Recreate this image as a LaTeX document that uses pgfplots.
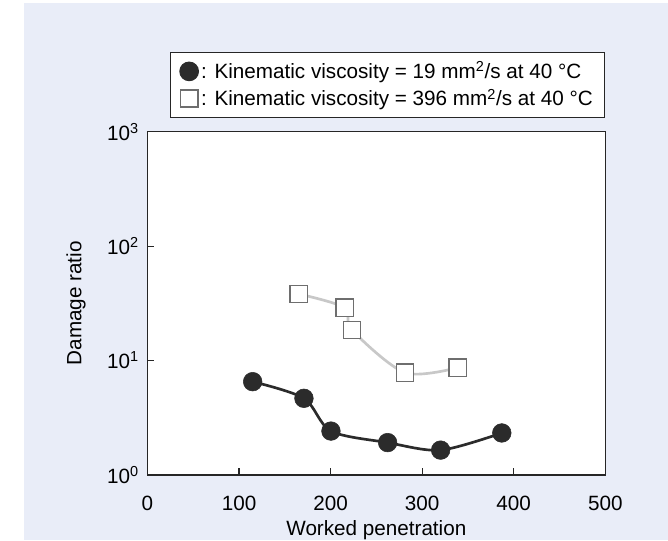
\documentclass[border=0pt]{standalone}
\usepackage{fontspec}
\setmainfont{Liberation Sans}
\usepackage{pgfplots}
\pgfplotsset{compat=1.18}
\definecolor{bgpanel}{RGB}{233,237,248}
\definecolor{darkmark}{RGB}{43,43,43}
\definecolor{lightline}{RGB}{200,200,200}
\definecolor{sqedge}{RGB}{110,110,110}

\begin{document}
\begin{tikzpicture}
% page background: 1px = 0.75pt, axis south west corner at (0,0)
\fill[bgpanel] (-110.6pt,-48.75pt) rectangle (390.4pt,356.25pt);
\fill[white] (-110.6pt,-48.75pt) rectangle (-92.6pt,356.25pt);
\fill[white] (-110.6pt,354pt) rectangle (390.4pt,356.25pt);

\begin{axis}[
    at={(0,0)}, anchor=south west,
    scale only axis,
    width=343.35pt, height=257.5pt,
    ymode=log,
    xmin=0, xmax=500,
    ymin=1, ymax=1000,
    xtick={0,100,200,300,400,500},
    xticklabels={0,100,200,300,400,500},
    ytick={1,10,100,1000},
    yticklabels={10\textsuperscript{0},10\textsuperscript{1},10\textsuperscript{2},10\textsuperscript{3}},
    yminorticks=false,
    tick pos=left,
    tick align=inside,
    major tick length=5pt,
    tick style={line width=0.9pt, color=black!85},
    axis line style={line width=1.1pt, color=black!85},
    axis background/.style={fill=white},
    ticklabel style={font=\fontsize{15.5pt}{18pt}\selectfont},
    xticklabel style={yshift=-12pt},
    yticklabel style={xshift=-3pt},
    xlabel={Worked penetration},
    xlabel style={font=\fontsize{15.5pt}{18pt}\selectfont, at={(axis description cs:0.5,0)}, anchor=north, inner sep=0pt, yshift=-34pt},
    ylabel={Damage ratio},
    ylabel style={font=\fontsize{15.5pt}{18pt}\selectfont, at={(axis description cs:-0.156,0.5)}, anchor=center},
    legend style={
        at={(1,1.232)}, anchor=north east,
        draw=black!85, line width=0.75pt, fill=white,
        font=\fontsize{15.5pt}{18pt}\selectfont,
        inner xsep=7pt, inner ysep=5pt,
        row sep=2pt,
    },
    legend cell align=left,
]

%% 19 mm2/s series (filled circles)
\addplot[darkmark, line width=2pt, smooth, tension=0.5, forget plot] coordinates {
    (114.9, 6.54)
    (170.9, 4.68)
    (200.4, 2.42)
    (262.3, 1.92)
    (320.2, 1.65)
    (387.0, 2.33)
};
%% 396 mm2/s series (open squares)
\addplot[lightline, line width=2pt, smooth, tension=0.5, forget plot] coordinates {
    (165.1, 38.2)
    (215.4, 29.0)
    (223.4, 18.5)
    (281.2, 7.84)
    (338.8, 8.67)
};

\addplot[only marks, mark=*, mark size=7pt, draw=darkmark, fill=darkmark] coordinates {
    (114.9, 6.54)
    (170.9, 4.68)
    (200.4, 2.42)
    (262.3, 1.92)
    (320.2, 1.65)
    (387.0, 2.33)
};
\addplot[only marks, mark=square*, mark size=6.5pt, draw=sqedge, fill=white, line width=1.1pt] coordinates {
    (165.1, 38.2)
    (215.4, 29.0)
    (223.4, 18.5)
    (281.2, 7.84)
    (338.8, 8.67)
};

\legend{: Kinematic viscosity = 19 mm\textsuperscript{2}/s at 40 °C,
        : Kinematic viscosity = 396 mm\textsuperscript{2}/s at 40 °C}
\end{axis}

\pgfresetboundingbox
\useasboundingbox (-110.6pt,-48.75pt) rectangle (390.4pt,356.25pt);
\end{tikzpicture}
\end{document}
